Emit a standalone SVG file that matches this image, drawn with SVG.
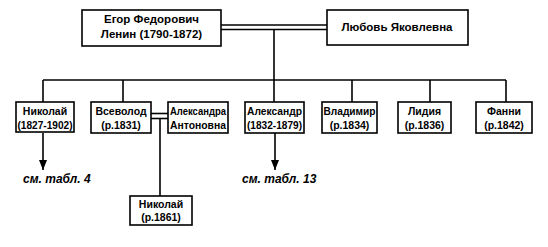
<svg xmlns="http://www.w3.org/2000/svg" width="548" height="247" viewBox="0 0 548 247">
<defs>
<style>
.box{fill:#fff;stroke:#000;stroke-width:1.6}
.ln{fill:none;stroke:#000;stroke-width:1.6}
.t{font-family:"Liberation Sans",Arial,sans-serif;font-size:10.5px;font-weight:bold;text-anchor:middle;fill:#000}
.tb{font-family:"Liberation Sans",Arial,sans-serif;font-size:11.5px;font-weight:bold;text-anchor:middle;fill:#000}
.ref{font-family:"Liberation Sans",Arial,sans-serif;font-size:12px;font-weight:bold;font-style:italic;fill:#000}
</style>
<marker id="arr" viewBox="0 0 10 8" refX="10" refY="4" markerWidth="10" markerHeight="8" markerUnits="userSpaceOnUse" orient="auto">
<path d="M0,0 L10,4 L0,8 Z" fill="#000"/>
</marker>
</defs>
<g id="connectors">
<line class="ln" x1="221" y1="25" x2="327" y2="25"/>
<line class="ln" x1="221" y1="29.5" x2="327" y2="29.5"/>
<line class="ln" x1="274" y1="29.5" x2="274" y2="102"/>
<line class="ln" x1="43" y1="80" x2="506" y2="80"/>
<line class="ln" x1="43" y1="80" x2="43" y2="102"/>
<line class="ln" x1="123" y1="80" x2="123" y2="102"/>
<line class="ln" x1="352" y1="80" x2="352" y2="102"/>
<line class="ln" x1="430" y1="80" x2="430" y2="102"/>
<line class="ln" x1="506" y1="80" x2="506" y2="102"/>
<line class="ln" x1="151" y1="113.5" x2="168" y2="113.5"/>
<line class="ln" x1="151" y1="118.5" x2="168" y2="118.5"/>
<line class="ln" x1="160" y1="118.5" x2="160" y2="196"/>
<line class="ln" x1="43" y1="133" x2="43" y2="170" marker-end="url(#arr)"/>
<line class="ln" x1="275" y1="133" x2="275" y2="170" marker-end="url(#arr)"/>
</g>
<g id="egor">
<rect class="box" x="82" y="10" width="139" height="36"/>
<text class="tb" x="151.5" y="23">Егор Федорович</text>
<text class="tb" x="151.5" y="38">Ленин (1790-1872)</text>
</g>
<g id="lyubov">
<rect class="box" x="327" y="10" width="141" height="35"/>
<text class="tb" x="397" y="31">Любовь Яковлевна</text>
</g>
<g id="nikolai">
<rect class="box" x="16" y="102" width="58" height="30"/>
<text class="t" x="45" y="115">Николай</text>
<text class="t" x="45" y="129" textLength="55" lengthAdjust="spacingAndGlyphs">(1827-1902)</text>
</g>
<g id="vsevolod">
<rect class="box" x="91" y="102" width="60" height="31"/>
<text class="t" x="121" y="115">Всеволод</text>
<text class="t" x="121" y="129">(р.1831)</text>
</g>
<g id="aleksandra">
<rect class="box" x="168" y="102" width="60" height="31"/>
<text class="t" x="198" y="115" textLength="56" lengthAdjust="spacingAndGlyphs">Александра</text>
<text class="t" x="198" y="129" textLength="56" lengthAdjust="spacingAndGlyphs">Антоновна</text>
</g>
<g id="aleksandr">
<rect class="box" x="245" y="102" width="59" height="31"/>
<text class="t" x="274.5" y="115" textLength="55" lengthAdjust="spacingAndGlyphs">Александр</text>
<text class="t" x="274.5" y="129" textLength="55" lengthAdjust="spacingAndGlyphs">(1832-1879)</text>
</g>
<g id="vladimir">
<rect class="box" x="322" y="102" width="55" height="31"/>
<text class="t" x="349.5" y="115" textLength="52" lengthAdjust="spacingAndGlyphs">Владимир</text>
<text class="t" x="349.5" y="129">(р.1834)</text>
</g>
<g id="lidiya">
<rect class="box" x="398" y="102" width="53" height="31"/>
<text class="t" x="424.5" y="115">Лидия</text>
<text class="t" x="424.5" y="129">(р.1836)</text>
</g>
<g id="fanni">
<rect class="box" x="476" y="102" width="56" height="31"/>
<text class="t" x="504" y="115">Фанни</text>
<text class="t" x="504" y="129">(р.1842)</text>
</g>
<g id="nikolai2">
<rect class="box" x="130" y="196" width="62" height="29"/>
<text class="t" x="161" y="208">Николай</text>
<text class="t" x="161" y="221">(р.1861)</text>
</g>
<g id="refs">
<text class="ref" x="23" y="183">см. табл. 4</text>
<text class="ref" x="242" y="183">см. табл. 13</text>
</g>
</svg>
